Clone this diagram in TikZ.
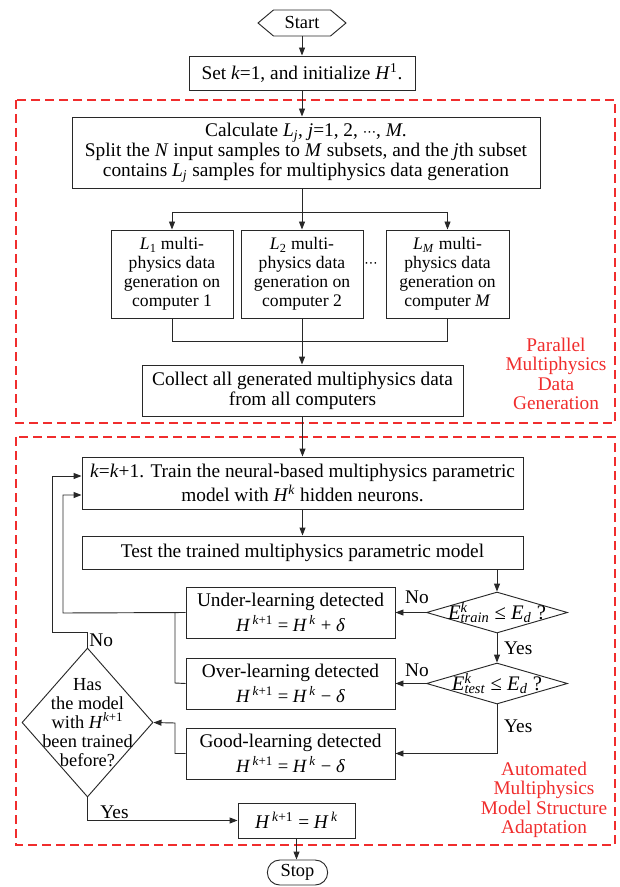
\documentclass[tikz,border=0pt]{standalone}
\usepackage{fontspec}
\setmainfont{Liberation Serif}
\newfontfamily\djv{DejaVu Sans}
\usetikzlibrary{arrows.meta,shapes.geometric,shapes.symbols,shapes.misc}
\definecolor{rl}{RGB}{240,45,45}
\definecolor{ink}{RGB}{40,40,40}
\newcommand\vv[1]{\textit{#1}}
\newcommand\sps[1]{\textsuperscript{#1}}
\newcommand\sbs[1]{\textsubscript{#1}}
\newcommand\Hk[1]{\vv{H}\sps{\,#1}}
\newcommand\Ek[1]{\vv{E}\rlap{\sps{\vv{k}}}\sbs{\vv{#1}}}
\newcommand\mdots{{\djv\fontsize{10}{10}\selectfont ⋯}}
\newcommand\mf{\fontsize{14}{15}\selectfont}
\begin{document}
\begin{tikzpicture}[x=0.75pt,y=-0.75pt,
  every node/.style={font=\fontsize{14.5}{15}\selectfont},
  bx/.style 2 args={draw=ink, line width=0.7pt, inner sep=1pt, align=center,
    minimum width=#1*0.75pt, minimum height=#2*0.75pt},
  dia/.style 2 args={draw=ink, diamond, line width=0.7pt, inner sep=0pt,
    minimum width=#1*0.75pt, minimum height=#2*0.75pt},
  ar/.style={draw=ink, -{Triangle[length=6pt,width=4.5pt]}, line width=0.7pt},
  ln/.style={draw=ink, line width=0.7pt},
  region/.style={draw=rl, line width=0.8pt, dash pattern=on 7pt off 3.5pt},
  rtxt/.style={text=rl, align=center, font=\fontsize{14.5}{14.6}\selectfont},
  gtxt/.style={font=\fontsize{13.2}{14.3}\selectfont},
  lab/.style={inner sep=1pt},
  dtxt/.style={font=\fontsize{15.5}{16}\selectfont},
  dlab/.style={align=center, font=\fontsize{13.8}{14.1}\selectfont}]
\useasboundingbox (0,0) rectangle (619,887);
% regions
\draw[region] (16,100) rectangle (615,423);
\draw[region] (16,437) rectangle (615,845);
\node[rtxt] (plab) at (556,374) {Parallel\\Multiphysics\\Data\\Generation};
\node[rtxt] (alab) at (544,800) {Automated\\Multiphysics\\Model Structure\\Adaptation};
% nodes
\node[draw=ink, line width=0.7pt, signal, signal to=west and east, signal pointer angle=80,
  inner sep=1pt, font=\fontsize{13.8}{14}\selectfont,
  minimum width=88*0.75pt, minimum height=26*0.75pt] (start) at (302,23) {Start};
\node[bx={226}{34}] (set) at (302,73) {Set \vv{k}=1, and initialize \vv{H}\sps{1}.};
\node[bx={468}{71}] (calc) at (306,152.5) {Calculate \vv{L}\sbs{\vv{j}}, \vv{j}=1, 2, \mdots, \vv{M}.\\
  Split the \vv{N} input samples to \vv{M} subsets, and the \vv{j}th subset\\
  contains \vv{L}\sbs{\vv{j}} samples for multiphysics data generation};
\node[bx={122}{88}, gtxt] (g1) at (172,274) {\vv{L}\sbs{1} multi-\\physics data\\generation on\\computer 1};
\node[bx={122}{88}, gtxt] (g2) at (302,274) {\vv{L}\sbs{2} multi-\\physics data\\generation on\\computer 2};
\node[bx={123}{88}, gtxt] (g3) at (447.5,274) {\vv{L}\sbs{\vv{M}} multi-\\physics data\\generation on\\computer \vv{M}};
\node[inner sep=0pt] (dots) at (371,265) {\mdots};
\node[bx={321}{51}] (collect) at (302.5,390.5) {Collect all generated multiphysics data\\from all computers};
\node[bx={441}{52}] (train) at (302.5,483) {\vv{k}=\vv{k}+1. Train the neural-based multiphysics parametric\\[1.5pt]model with \vv{H}\sps{\vv{k}} hidden neurons.};
\node[bx={441}{33}] (test) at (302.5,552.5) {Test the trained multiphysics parametric model};
\node[dia={141}{41}, label={[dtxt]center:\Ek{train} ≤ \vv{E}\sbs{\vv{d}} ?}] (d1) at (497,612.5) {};
\node[dia={141}{41}, label={[dtxt]center:\Ek{test} ≤ \vv{E}\sbs{\vv{d}} ?}] (d2) at (497,683.5) {};
\node[bx={209}{51}] (under) at (290.5,612.5) {Under-learning detected\\[3pt]{\mf\Hk{\vv{k}+1} = \Hk{\vv{k}} + \vv{δ}}};
\node[bx={209}{51}] (over) at (290.5,683.5) {Over-learning detected\\[3pt]{\mf\Hk{\vv{k}+1} = \Hk{\vv{k}} − \vv{δ}}};
\node[bx={209}{51}] (good) at (290.5,753.5) {Good-learning detected\\[3pt]{\mf\Hk{\vv{k}+1} = \Hk{\vv{k}} − \vv{δ}}};
\node[dia={131}{149}, label={[dlab]center:Has\\the model\\with \vv{H}\sps{\vv{k}+1}\\been trained\\before?}] (d3) at (87.5,722.5) {};
\node[bx={117}{35}] (hk) at (296.5,820.5) {\Hk{\vv{k}+1} = \Hk{\vv{k}}};
\node[draw=ink, line width=0.7pt, rounded rectangle, inner sep=1pt, font=\fontsize{13.8}{14}\selectfont,
  minimum width=63*0.75pt, minimum height=25*0.75pt] (stop) at (297.5,872.5) {Stop};
% coordinates
\coordinate (bus) at (302,212);
\coordinate (join) at (302,341);
\coordinate (lpA) at (63,613);
\coordinate (lpB) at (52,632);
\coordinate (ov) at (175,683);
\coordinate (gd) at (175,723);
% connectors
\draw[ar] (start.south) -- (set.north);
\draw[ar] (set.south) -- (set.south |- calc.north);
\draw[ln] (bus |- calc.south) -- (bus);
\draw[ln] (g1.north |- bus) -- (g3.north |- bus);
\draw[ar] (g1.north |- bus) -- (g1.north);
\draw[ar] (bus) -- (g2.north);
\draw[ar] (g3.north |- bus) -- (g3.north);
\draw[ln] (g1.south) -- (g1.south |- join) -- (g3.south |- join) -- (g3.south);
\draw[ln] (g2.south) -- (g2.south |- join);
\draw[ar] (join) -- (join |- collect.north);
\draw[ar] (collect.south) -- (train.north);
\draw[ar] (train.south) -- (test.north);
\draw[ar] (test.south -| d1.north) -- (d1.north);
\draw[ar] (d1.west) -- node[lab, above, pos=0.3, yshift=5pt] {No} (under.east);
\draw[ar] (d1.south) -- node[lab, right, xshift=4pt] {Yes} (d2.north);
\draw[ar] (d2.west) -- node[lab, above, pos=0.3, yshift=4pt] {No} (over.east);
\draw[ar] (d2.south) -- node[lab, right, pos=0.45, xshift=4pt] {Yes} (d2.south |- good.east) -- (good.east);
\draw[ar] (under.west) -- (lpA) -- (lpA |- 0,495) -- (train.west |- 0,495);
\draw[ln] (over.west) -- (ov) -- (ov |- under.west);
\draw[ar] (good.west) -- (gd |- good.west) -- (gd) -- (d3.east);
\draw[ar] (d3.north) -- node[lab, right, pos=0.5] {No} (d3.north |- lpB) -- (lpB) -- (lpB |- 0,476) -- (train.west |- 0,476);
\draw[ar] (d3.south) -- (d3.south |- hk.west) -- node[lab, above, pos=0.18] {Yes} (hk.west);
\draw[ar] (hk.south) -- (hk.south |- stop.north);
\end{tikzpicture}
\end{document}
